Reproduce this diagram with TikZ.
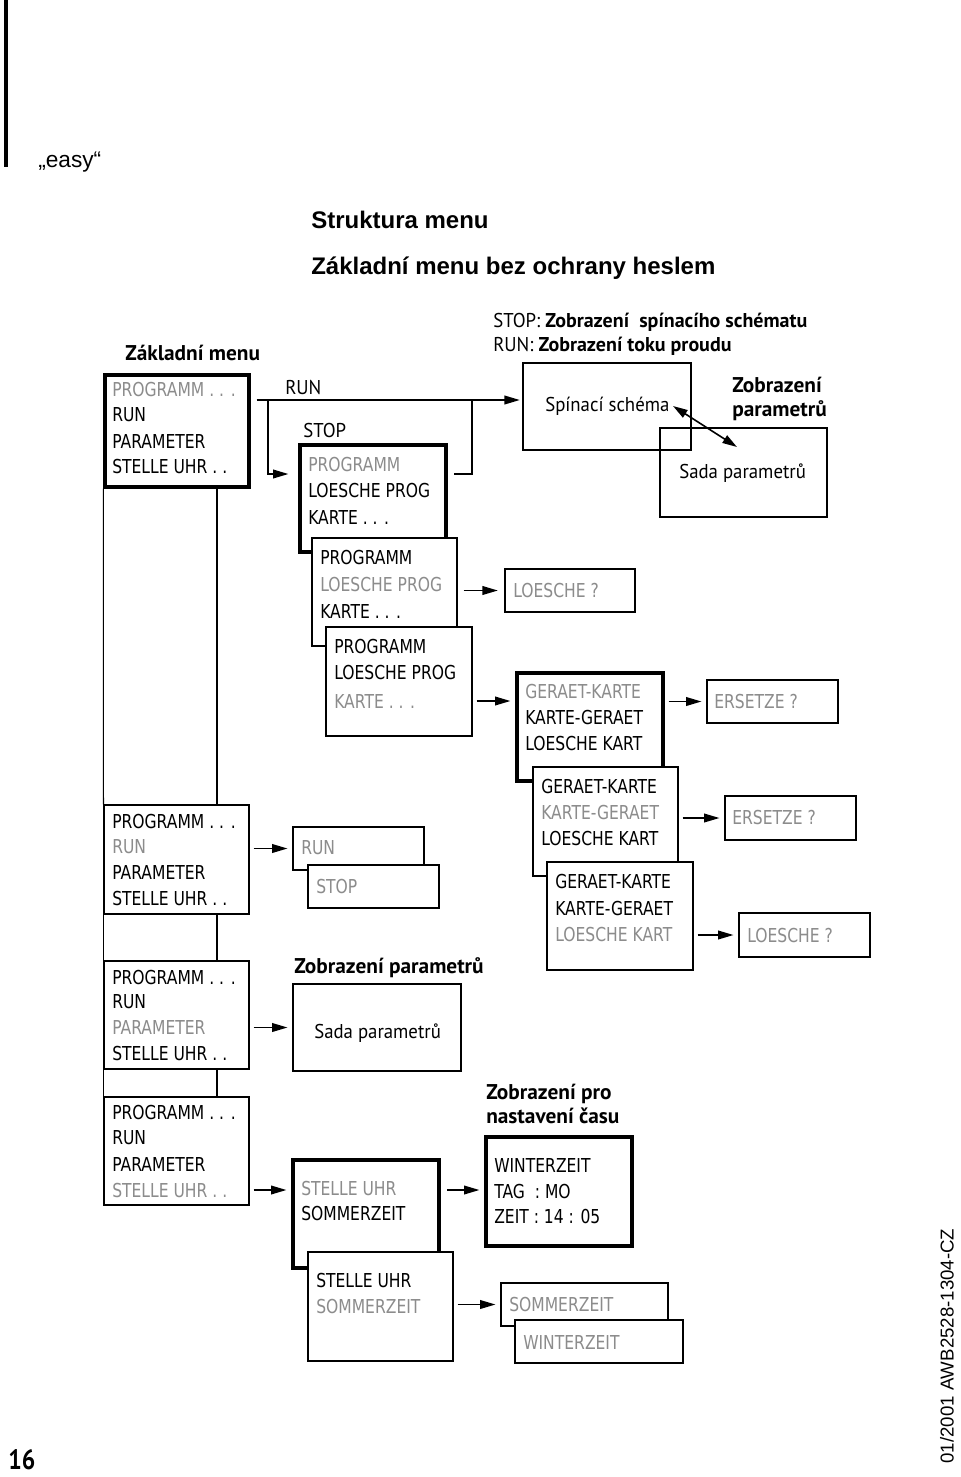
\documentclass[tikz,border=0pt]{standalone}
\usepackage{fontspec}
\setmainfont{Liberation Sans}
\newfontfamily\lcdf[FakeStretch=0.81]{DejaVu Sans}
\newfontfamily\frut[FakeStretch=0.94]{PT Sans}
\newfontfamily\frutb{PT Sans}
\newfontfamily\frutc[FakeStretch=0.85]{PT Sans}
\usetikzlibrary{fit,arrows.meta}
\definecolor{lcdgray}{gray}{0.55}
\newcommand\ltx[5]{\node[lcd,#4] (#1) at (#2,#3) {#5};}
\begin{document}
\begin{tikzpicture}[x=0.75pt,y=-0.75pt,
 thinbox/.style={draw, line width=0.8pt, inner sep=0pt, fill=white},
 openbox/.style={draw, line width=0.8pt, inner sep=0pt},
 thickbox/.style={draw, line width=2.4pt, inner sep=0pt, fill=white},
 lcd/.style={anchor=west, inner sep=0pt, font=\lcdf\fontsize{14.4}{16}\selectfont},
 lcddim/.style={text=lcdgray},
 lab/.style={anchor=base west, inner sep=0pt, font=\frut\fontsize{15}{18}\selectfont},
 blab/.style={anchor=base west, inner sep=0pt, font=\frutb\bfseries\fontsize{16}{19}\selectfont},
 slab/.style={anchor=base west, inner sep=0pt, font=\frut\fontsize{15}{18}\selectfont},
 arr/.style={-{Triangle[length=11.5pt,width=6.5pt]}, line width=1.2pt, shorten <=3pt, shorten >=3.75pt},
 darr/.style={{Triangle[length=11pt,width=6.5pt]}-{Triangle[length=11pt,width=6.5pt]}, line width=1.2pt},
 conn/.style={line width=1.2pt},
 vline/.style={line width=0.8pt}]
\useasboundingbox (0,0) rectangle (960,1477);
\fill (4,0) rectangle (8,167);
\node[anchor=base west, inner sep=0pt, font=\fontsize{17}{20}\selectfont] (easy) at (38,167) {„easy“};
\node[anchor=base west, inner sep=0pt, font=\bfseries\fontsize{18}{22}\selectfont] (h1) at (311,228) {Struktura menu};
\node[anchor=base west, inner sep=0pt, font=\bfseries\fontsize{18}{22}\selectfont] (h2) at (311,274) {Základní menu bez ochrany heslem};
% labels
\node[blab] (zm) at (125,360) {Základní menu};
\node[lab] (lrun) at (285,394) {RUN};
\node[lab] (lstop) at (303,437) {STOP};
\node[slab] (st1) at (493,327) {STOP: {\frutb\bfseries Zobrazení\ \ spínacího schématu}};
\node[slab] (st2) at (493,351) {RUN: {\frutb\bfseries Zobrazení toku proudu}};
% top right boxes
\node[openbox, fit={(523,363)(691,450)}] (sp) {};
\node[openbox, fit={(660,428)(827,517)}] (sd) {};
\node[lab] (sptxt) at (545,411) {Spínací schéma};
\node[blab] (zp1) at (732,392) {Zobrazení};
\node[blab] (zp2) at (732,416) {parametrů};
\node[lab] (sdtxt) at (679,478) {Sada parametrů};
\coordinate (da1) at (673,406);
\coordinate (da2) at (737,447);
\draw[darr] (da1) -- (da2);
% main menu 1
\node[thickbox, fit={(105,375)(249,487)}] (m1) {};
\ltx{m1a}{112}{390}{lcddim}{PROGRAMM . . .}
\ltx{m1b}{112}{415}{}{RUN}
\ltx{m1c}{112}{441}{}{PARAMETER}
\ltx{m1d}{112}{467}{}{STELLE UHR . .}
% STOP boxes
\node[thickbox, fit={(300,445)(446,552)}] (s1) {};
\ltx{s1a}{308}{465}{lcddim}{PROGRAMM}
\ltx{s1b}{308}{491}{}{LOESCHE PROG}
\ltx{s1c}{308}{517}{}{KARTE . . .}
\node[thinbox, fit={(312,538)(457,646)}] (s2) {};
\ltx{s2a}{320}{558}{}{PROGRAMM}
\ltx{s2b}{320}{585}{lcddim}{LOESCHE PROG}
\ltx{s2c}{320}{611}{}{KARTE . . .}
\node[thinbox, fit={(326,627)(472,736)}] (s3) {};
\ltx{s3a}{334}{647}{}{PROGRAMM}
\ltx{s3b}{334}{673}{}{LOESCHE PROG}
\ltx{s3c}{334}{701}{lcddim}{KARTE . . .}
% connectors RUN / STOP
\coordinate (j1) at (268,400);
\coordinate (j2) at (472,400);
\coordinate (j3) at (268,474);
\draw[arr, shorten <=4.5pt, shorten >=2pt] (m1.east |- j1) -- (sp.west |- j1);
\draw[arr, shorten <=0pt, shorten >=7.5pt] (j1) |- (s1.west |- j3);
\draw[conn, shorten <=5pt] (s1.east |- j3) -| (j2);
% LOESCHE ?
\node[thinbox, fit={(505,569)(635,612)}] (l1) {};
\ltx{l1a}{513}{591}{lcddim}{LOESCHE ?}
\draw[arr, shorten <=4.5pt, shorten >=5pt] (s2.east |- l1.west) -- (l1.west);
% GERAET boxes
\node[thickbox, fit={(517,673)(663,781)}] (g1) {};
\ltx{g1a}{525}{692}{lcddim}{GERAET-KARTE}
\ltx{g1b}{525}{718}{}{KARTE-GERAET}
\ltx{g1c}{525}{744}{}{LOESCHE KART}
\draw[arr] (s3.east |- s3c) -- (g1.west |- s3c);
\node[thinbox, fit={(707,680)(838,723)}] (e1) {};
\ltx{e1a}{714}{702}{lcddim}{ERSETZE ?}
\draw[arr] (g1.east |- e1.west) -- (e1.west);
\node[thinbox, fit={(533,767)(678,876)}] (g2) {};
\ltx{g2a}{541}{787}{}{GERAET-KARTE}
\ltx{g2b}{541}{813}{lcddim}{KARTE-GERAET}
\ltx{g2c}{541}{839}{}{LOESCHE KART}
\node[thinbox, fit={(725,796)(856,840)}] (e2) {};
\ltx{e2a}{732}{818}{lcddim}{ERSETZE ?}
\draw[arr] (g2.east |- e2.west) -- (e2.west);
\node[thinbox, fit={(547,862)(693,970)}] (g3) {};
\ltx{g3a}{555}{882}{}{GERAET-KARTE}
\ltx{g3b}{555}{908}{}{KARTE-GERAET}
\ltx{g3c}{555}{934}{lcddim}{LOESCHE KART}
\node[thinbox, fit={(739,913)(870,957)}] (l2) {};
\ltx{l2a}{747}{935}{lcddim}{LOESCHE ?}
\draw[arr] (g3.east |- l2.west) -- (l2.west);
% main menu 2
\node[thinbox, fit={(104,805)(249,914)}] (m2) {};
\ltx{m2a}{112}{822}{}{PROGRAMM . . .}
\ltx{m2b}{112}{847}{lcddim}{RUN}
\ltx{m2c}{112}{872}{}{PARAMETER}
\ltx{m2d}{112}{898}{}{STELLE UHR . .}
\node[thinbox, fit={(293,827)(424,870)}] (rb) {};
\ltx{rba}{301}{848}{lcddim}{RUN}
\node[thinbox, fit={(308,865)(439,908)}] (sb) {};
\ltx{sba}{316}{886}{lcddim}{STOP}
\draw[arr] (m2.east |- rb.west) -- (rb.west);
% main menu 3
\node[thinbox, fit={(104,961)(249,1069)}] (m3) {};
\ltx{m3a}{112}{977}{}{PROGRAMM . . .}
\ltx{m3b}{112}{1002}{}{RUN}
\ltx{m3c}{112}{1027}{lcddim}{PARAMETER}
\ltx{m3d}{112}{1053}{}{STELLE UHR . .}
\node[blab] (zpm) at (294,973) {Zobrazení parametrů};
\node[openbox, fit={(293,984)(461,1071)}] (sdb) {};
\node[lab] (sdm) at (314,1038) {Sada parametrů};
\draw[arr] (m3.east |- sdb.west) -- (sdb.west);
% main menu 4
\node[thinbox, fit={(104,1097)(249,1205)}] (m4) {};
\ltx{m4a}{112}{1112}{}{PROGRAMM . . .}
\ltx{m4b}{112}{1138}{}{RUN}
\ltx{m4c}{112}{1164}{}{PARAMETER}
\ltx{m4d}{112}{1190}{lcddim}{STELLE UHR . .}
% vertical connectors
\coordinate (vx) at (217,0);
\draw[vline] (m1.south west) -- (m2.north west);
\draw[vline] (m1.south -| vx) -- (m2.north -| vx);
\draw[vline] (m2.south west) -- (m3.north west);
\draw[vline] (m2.south -| vx) -- (m3.north -| vx);
\draw[vline] (m3.south west) -- (m4.north west);
\draw[vline] (m3.south -| vx) -- (m4.north -| vx);
% clock
\node[thickbox, fit={(293,1160)(439,1268)}] (u1) {};
\ltx{u1a}{301}{1188}{lcddim}{STELLE UHR}
\ltx{u1b}{301}{1213}{}{SOMMERZEIT}
\draw[arr] (m4.east |- m4d) -- (u1.west |- m4d);
\node[blab] (zc1) at (486,1099) {Zobrazení pro};
\node[blab] (zc2) at (486,1123) {nastavení času};
\node[thickbox, fit={(486,1137)(632,1246)}] (wz) {};
\ltx{wza}{494}{1165}{}{WINTERZEIT}
\ltx{wzb}{494}{1191}{}{TAG\ \ : MO}
\ltx{wzc}{494}{1216}{}{ZEIT : 14 : 05}
\draw[arr, shorten <=5pt] (u1.east |- m4d) -- (wz.west |- m4d);
\node[thinbox, fit={(308,1252)(453,1361)}] (u2) {};
\ltx{u2a}{316}{1280}{}{STELLE UHR}
\ltx{u2b}{316}{1306}{lcddim}{SOMMERZEIT}
\node[thinbox, fit={(501,1283)(668,1326)}] (so) {};
\ltx{soa}{509}{1304}{lcddim}{SOMMERZEIT}
\node[thinbox, fit={(515,1320)(683,1363)}] (wi) {};
\ltx{wia}{523}{1342}{lcddim}{WINTERZEIT}
\draw[arr] (u2.east |- so.west) -- (so.west);
% footer
\node[anchor=base west, inner sep=0pt, font=\frutc\bfseries\fontsize{21}{24}\selectfont] (pg) at (8,1469) {16};
\node[rotate=90, inner sep=0pt, font=\fontsize{14}{16}\selectfont] (doc) at (947,1346) {01/2001 AWB2528-1304-CZ};
\end{tikzpicture}
\end{document}
